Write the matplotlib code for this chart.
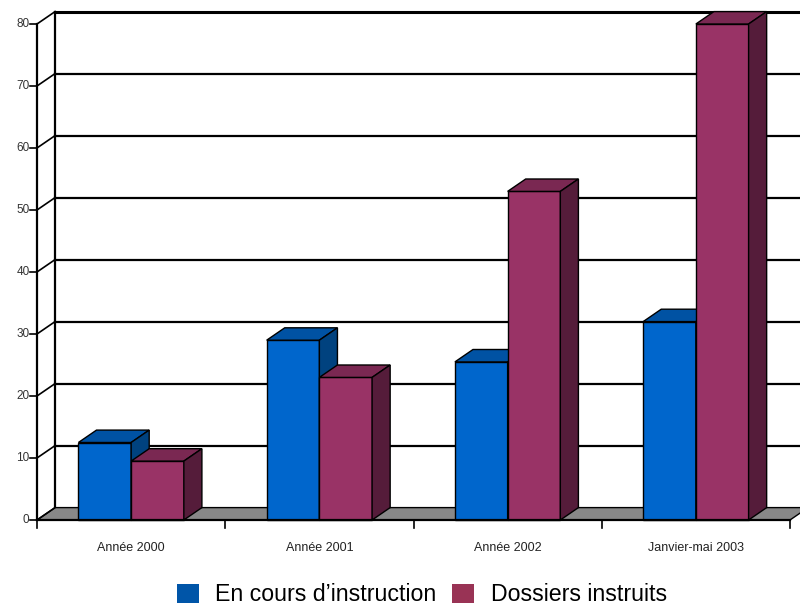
import matplotlib
matplotlib.use("Agg")
import matplotlib.pyplot as plt
from matplotlib.patches import Patch, Polygon, Rectangle

plt.rcParams["font.family"] = ["Liberation Sans", "DejaVu Sans"]

categories = ["Année 2000", "Année 2001", "Année 2002", "Janvier-mai 2003"]
en_cours = [12.5, 29, 25.5, 32]
instruits = [9.5, 23, 53, 80]
y_ticks = [0, 10, 20, 30, 40, 50, 60, 70, 80]
series_labels = ["En cours d\u2019instruction", "Dossiers instruits"]

# face colours: front, top, side
BLUE = ("#0066cc", "#0052a3", "#00427f")
PURPLE = ("#993366", "#7a2852", "#551c3a")
DX, DY = 0.096, 2.0  # depth offset in data units
BAR_W = 0.28


def draw_bar(ax, x0, h, colors):
    front, top, side = colors
    kw = dict(edgecolor="black", linewidth=1.0, zorder=5, clip_on=False)
    ax.add_patch(Rectangle((x0, 0), BAR_W, h, facecolor=front, **kw))
    ax.add_patch(Polygon([(x0, h), (x0 + BAR_W, h), (x0 + BAR_W + DX, h + DY), (x0 + DX, h + DY)],
                         closed=True, facecolor=top, **kw))
    ax.add_patch(Polygon([(x0 + BAR_W, 0), (x0 + BAR_W + DX, DY), (x0 + BAR_W + DX, h + DY), (x0 + BAR_W, h)],
                         closed=True, facecolor=side, **kw))


fig = plt.figure(figsize=(8, 6.09), dpi=100)
ax = fig.add_axes([37 / 800, 1 - 520 / 609, (790 - 37) / 800, (520 - 24) / 609])
ax.set_xlim(-0.5, len(categories) - 0.5)
ax.set_ylim(0, 80)
ax.axis("off")

xl, xr = -0.5, len(categories) - 0.5
top = max(y_ticks)

# floor
ax.add_patch(Polygon([(xl, 0), (xr, 0), (xr + DX, DY), (xl + DX, DY)], closed=True,
                     facecolor="#888888", edgecolor="black", linewidth=1.0, zorder=2, clip_on=False))

# back wall gridlines and front axis connectors
for v in y_ticks[1:]:
    lw = 2.2 if v == top else 1.6
    ax.plot([xl + DX, xr + 0.4], [v + DY, v + DY], color="black", lw=lw, zorder=1, clip_on=False)
for v in y_ticks:
    ax.plot([xl, xl + DX], [v, v + DY], color="black", lw=1.2, zorder=3, clip_on=False)
    ax.plot([xl - 0.037, xl], [v, v], color="black", lw=1.2, zorder=3, clip_on=False)
    ax.text(xl - 0.04, v, str(v), ha="right", va="center", fontsize=8.5, color="#333333")
ax.plot([xl, xl], [0, top], color="black", lw=1.6, zorder=3, clip_on=False)
ax.plot([xl + DX, xl + DX], [DY, top + DY], color="black", lw=1.6, zorder=1, clip_on=False)

# category axis
ax.plot([xl, xr], [0, 0], color="black", lw=1.6, zorder=6, clip_on=False)
for i in range(len(categories) + 1):
    ax.plot([xl + i, xl + i], [0, -1.3], color="black", lw=1.2, zorder=6, clip_on=False)
for i, cat in enumerate(categories):
    ax.text(i, -4.5, cat, ha="center", va="center", fontsize=9, color="#222222")

# bars
for i in range(len(categories)):
    draw_bar(ax, i - BAR_W, en_cours[i], BLUE)
    draw_bar(ax, i, instruits[i], PURPLE)

handles = [Patch(facecolor="#0055a8"), Patch(facecolor="#993355")]
fig.legend(handles, series_labels, loc="center", bbox_to_anchor=(0.527, 0.023), ncol=2,
           frameon=False, fontsize=16.7, handlelength=0.95, handleheight=0.92,
           handletextpad=0.7, columnspacing=0.7)

fig.savefig("out.png", dpi=100)
